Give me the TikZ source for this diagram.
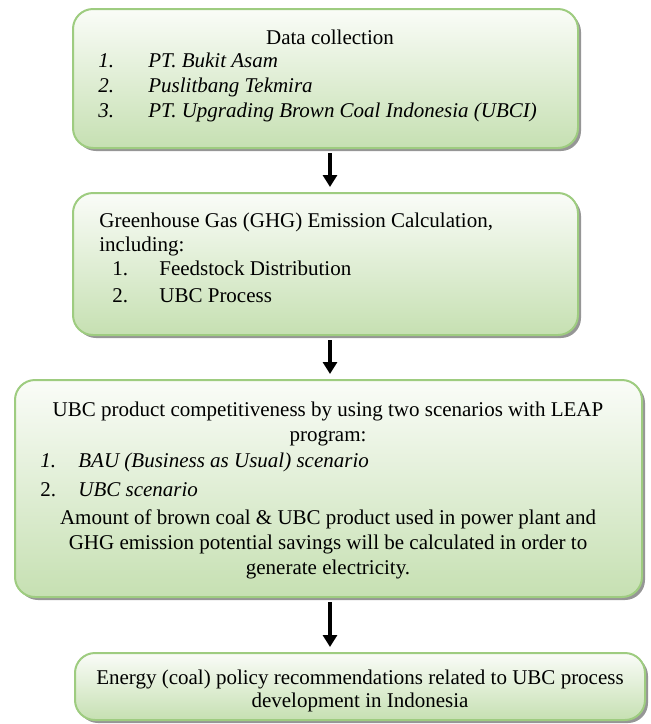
\documentclass[tikz,border=0pt]{standalone}
\usepackage{fontspec}
\setmainfont{Liberation Serif}
\usetikzlibrary{arrows.meta,shadows}

\definecolor{boxline}{RGB}{158,204,128}
\definecolor{boxtop}{RGB}{250,252,248}
\definecolor{boxbot}{RGB}{198,224,178}
\definecolor{shadowgray}{RGB}{150,150,150}

\tikzset{
  stagebox/.style={draw=boxline, line width=1pt, rounded corners=10pt,
    top color=boxtop, bottom color=boxbot, inner sep=0pt,
    drop shadow={shadow xshift=1.5pt, shadow yshift=-1.5pt, fill=shadowgray, opacity=1}},
  txt/.style={anchor=mid west, inner sep=0pt, font=\fontsize{10.5}{12}\selectfont},
  ctxt/.style={anchor=mid, inner sep=0pt, font=\fontsize{10.5}{12}\selectfont},
  flow/.style={line width=2pt, -{Triangle[width=7pt,length=6pt]}}
}

\begin{document}
\begin{tikzpicture}[x=0.5pt,y=-0.5pt]
\useasboundingbox (0,0) rectangle (651,724);
\coordinate (axis) at (330,0);

% stage boxes
\node[stagebox, minimum width=252.5pt, minimum height=69.5pt] (collect) at (325.5,78.5) {};
\node[stagebox, minimum width=252.5pt, minimum height=71pt] (ghg) at (325.5,264) {};
\node[stagebox, minimum width=313.5pt, minimum height=108.5pt] (leap) at (328.5,488.5) {};
\node[stagebox, minimum width=285pt, minimum height=33.5pt] (policy) at (360,686.5) {};

% data collection
\node[ctxt] (c0) at (330,40) {Data collection};
\node[txt] (c1n) at (98,63) {\itshape 1.};
\node[txt] (c1) at (148,63) {\itshape PT. Bukit Asam};
\node[txt] (c2n) at (98,88) {\itshape 2.};
\node[txt] (c2) at (148,88) {\itshape Puslitbang Tekmira};
\node[txt] (c3n) at (98,113) {\itshape 3.};
\node[txt] (c3) at (148,113) {\itshape PT. Upgrading Brown Coal Indonesia (UBCI)};

% emission calculation
\node[txt] (g0) at (99,223) {Greenhouse Gas (GHG) Emission Calculation,};
\node[txt] (g1) at (99,247) {including:};
\node[txt] (g2n) at (112,271) {1.};
\node[txt] (g2) at (159,271) {Feedstock Distribution};
\node[txt] (g3n) at (112,298) {2.};
\node[txt] (g3) at (159,298) {UBC Process};

% scenarios
\node[ctxt] (l0) at (328,412) {UBC product competitiveness by using two scenarios with LEAP};
\node[ctxt] (l1) at (328,437) {program:};
\node[txt] (l2n) at (40,463) {\itshape 1.};
\node[txt] (l2) at (78,463) {\itshape BAU (Business as Usual) scenario};
\node[txt] (l3n) at (40,492) {2.};
\node[txt] (l3) at (78,492) {\itshape UBC scenario};
\node[ctxt] (l4) at (328,520) {Amount of brown coal \& UBC product used in power plant and};
\node[ctxt] (l5) at (328,545) {GHG emission potential savings will be calculated in order to};
\node[ctxt] (l6) at (328,570) {generate electricity.};

% recommendations
\node[ctxt] (p0) at (360,680) {Energy (coal) policy recommendations related to UBC process};
\node[ctxt] (p1) at (360,703) {development in Indonesia};

% arrows
\draw[flow, shorten <=2pt, shorten >=2.5pt] (collect.south -| axis) -- (ghg.north -| axis);
\draw[flow, shorten <=2pt, shorten >=2.5pt] (ghg.south -| axis) -- (leap.north -| axis);
\draw[flow, shorten <=2pt, shorten >=2.5pt] (leap.south -| axis) -- (policy.north -| axis);
\end{tikzpicture}
\end{document}
